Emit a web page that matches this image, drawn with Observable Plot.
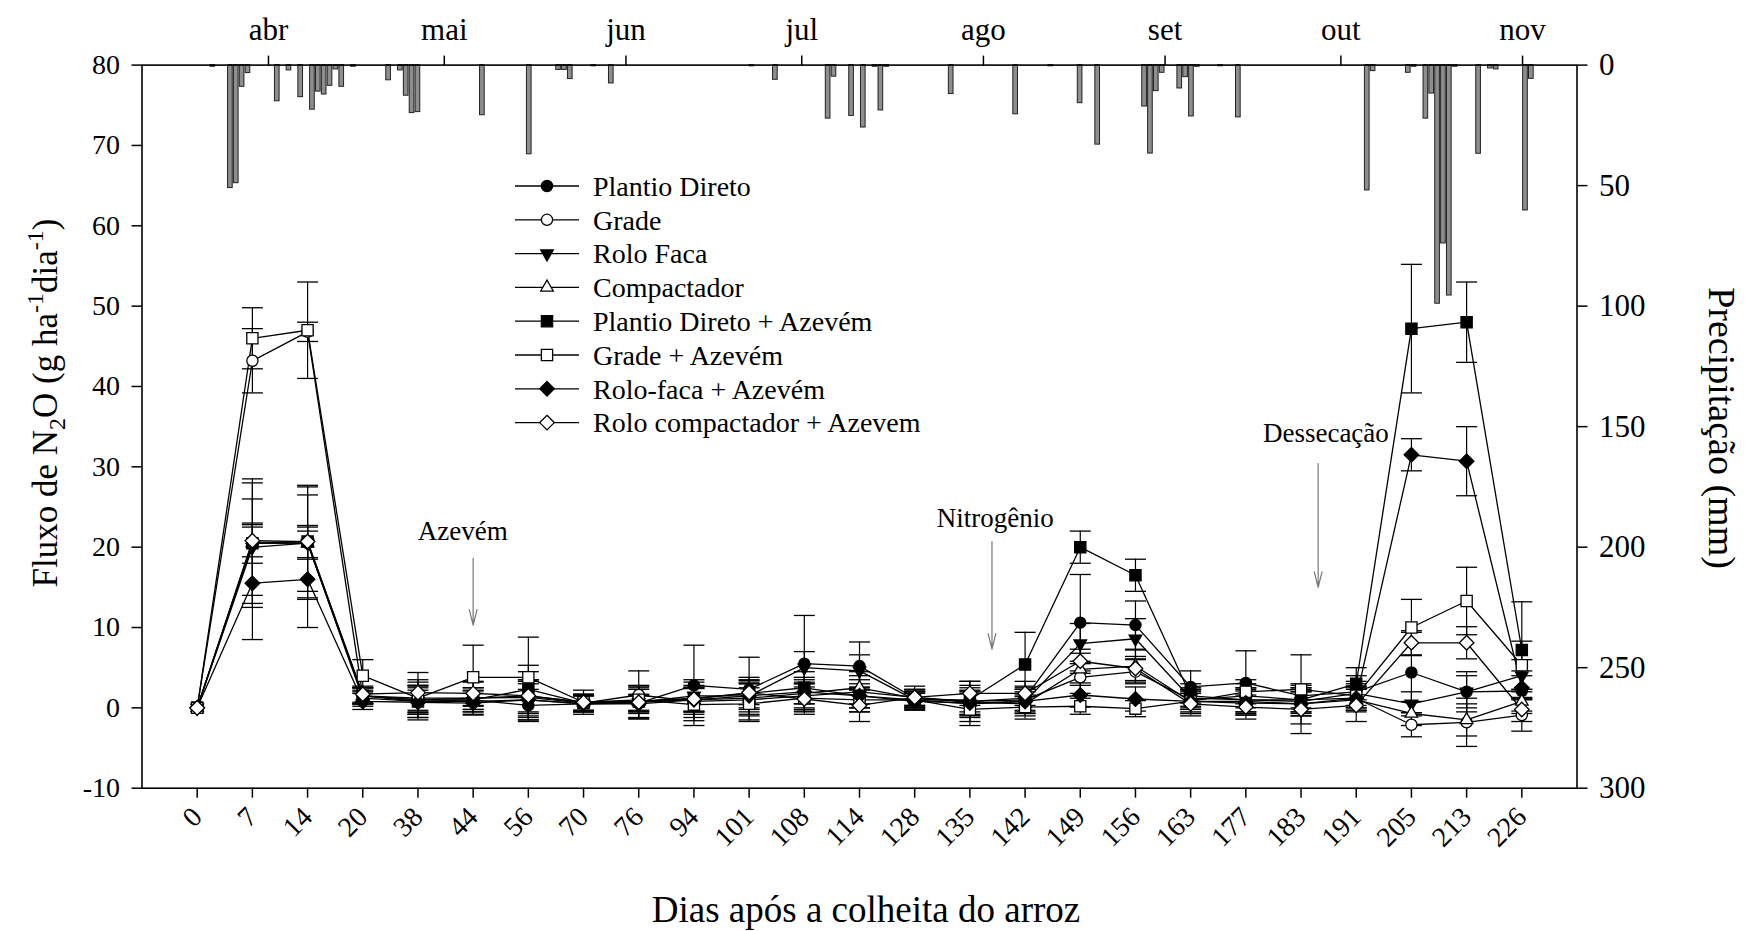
<!DOCTYPE html>
<html><head><meta charset="utf-8">
<script src="https://cdn.jsdelivr.net/npm/d3@7"></script>
<script src="https://cdn.jsdelivr.net/npm/@observablehq/plot@0.6"></script>
<style>
html,body{margin:0;padding:0;background:#fff;}
#chart{position:relative;width:1747px;height:931px;}
#chart svg{position:absolute;left:0;top:0;}
</style></head><body><div id="chart"></div>
<script>
// ---------- data ----------
const days = [0,7,14,20,38,44,56,70,76,94,101,108,114,128,135,142,149,156,163,177,183,191,205,213,226];
const seriesNames = ["Plantio Direto","Grade","Rolo Faca","Compactador","Plantio Direto + Azevém","Grade + Azevém","Rolo-faca + Azevém","Rolo compactador + Azevem"];

const pd     = [0,20.5,20.5,1.5,1.0,1.0,0.3,0.5,0.6,2.8,2.3,5.5,5.2,1.2,0.8,1.2,10.6,10.3,2.6,3.1,1.5,2.0,4.4,2.0,2.1];
const pdErr  = [0,7.5,7,1,1.5,1.5,2,1,1,5,4,6,3,1.5,2,1.5,6,3,2,4,1.5,2,5,2.5,2.5];
const gr     = [0,43.2,46.8,1.5,1.2,1.2,1.3,0.6,1.6,0.8,1.0,1.5,2.0,1.3,0.8,1.0,3.8,4.5,1.0,1.5,1.0,1.2,-2.1,-1.8,-0.9];
const grErr  = [0,4,1.2,1,1.5,1,2,1,3,2,2,1.5,2,1,2.5,1.5,2,1.5,1.5,1.5,1.5,1.5,1.5,3,2];
const rf     = [0,20.0,20.5,1.2,0.8,0.8,1.0,0.5,0.7,1.5,1.5,5.0,4.6,1.0,0.5,0.8,8.0,8.6,1.2,1.0,0.8,1.8,0.5,2.0,4.0];
const rfErr  = [0,6,6,1,2,1,2,1,1,2,2,2,2,1,1.5,1.5,2.5,2.5,1,1.5,1.5,1.5,1.5,2,2];
const cp     = [0,20.5,20.5,1.5,1.0,1.2,1.5,0.7,0.8,1.0,1.2,1.8,2.5,1.2,0.7,0.5,4.8,5.2,0.8,0.8,0.5,1.0,-0.7,-1.5,0.8];
const cpErr  = [0,2.5,2,1,2.5,2,3,1,2,1.5,2,2,2,1,1.5,1.5,2,2,1,1.5,1.5,1.5,1.5,2,1.5];
const pda    = [0,20.5,20.7,1.5,0.8,1.0,2.3,0.6,0.8,1.2,1.8,2.5,1.5,1.0,1.0,5.4,20.0,16.5,1.5,1.0,1.0,3.0,47.2,48.0,7.2];
const pdaErr = [0,8,7,1,2,1.5,3,1,1.5,2,2,2,2,1,1.5,4,2,2,1.5,1.5,1.5,2,8,5,6];
const ga     = [0,46.0,47.0,4.0,1.2,3.8,3.8,0.7,1.0,0.4,0.5,1.2,1.0,1.0,-0.2,0.1,0.2,-0.1,0.8,2.0,2.3,1.5,10.0,13.3,5.3];
const gaErr  = [0,3.8,6,2,2,4,5,1.5,1.5,2,2,2,1.5,1,2,1.5,1,1,1.5,1.5,4.3,1.5,3.5,4.2,3];
const rfa    = [0,15.5,16.0,0.8,0.7,0.6,1.0,0.5,0.5,1.0,1.5,2.0,1.5,0.8,0.6,0.8,1.6,1.1,0.8,0.6,0.5,1.2,31.5,30.7,2.5];
const rfaErr = [0,7,6,1,1.5,1.5,2.5,1,1,1.5,1.5,1.5,1.5,1,1.5,1.5,1.5,1.5,1.5,1.5,1.5,1.5,2,4.3,1.5];
const rca    = [0,20.8,20.7,1.7,1.9,1.8,1.5,0.7,0.7,1.1,1.9,1.1,0.3,1.3,1.8,1.8,5.8,4.9,0.5,0.1,-0.2,0.3,8.1,8.1,-0.2];
const rcaErr = [0,2,2,1,2.5,1.5,2,1,2,1.5,1.5,1.5,2,1,1.5,1.5,1.5,1.5,1.5,1.5,3,2,1.5,2,1.5];

const yTicks = [-10,0,10,20,30,40,50,60,70,80];

const precipDates = ["2011-03-22","2011-03-25","2011-03-26","2011-03-27","2011-03-28","2011-04-02","2011-04-04","2011-04-06","2011-04-08","2011-04-09","2011-04-10","2011-04-11","2011-04-12","2011-04-13","2011-04-15","2011-04-21","2011-04-23","2011-04-24","2011-04-25","2011-04-26","2011-05-07","2011-05-15","2011-05-20","2011-05-21","2011-05-22","2011-05-26","2011-05-29","2011-06-22","2011-06-26","2011-07-05","2011-07-06","2011-07-09","2011-07-11","2011-07-13","2011-07-14","2011-07-15","2011-07-26","2011-08-06","2011-08-12","2011-08-17","2011-08-20","2011-08-28","2011-08-29","2011-08-30","2011-08-31","2011-09-03","2011-09-04","2011-09-05","2011-09-06","2011-09-10","2011-09-13","2011-10-05","2011-10-06","2011-10-12","2011-10-13","2011-10-15","2011-10-16","2011-10-17","2011-10-18","2011-10-19","2011-10-20","2011-10-24","2011-10-26","2011-10-27","2011-11-01","2011-11-02"];
const precipMm = [0.7,51,49,9,3.3,15,2.2,13.3,18.5,11,12.2,8.6,1.8,9,0.7,6.3,2.2,12.7,19.9,19.5,20.8,37,2,2,5.8,0.5,7.6,0.5,6.1,22.2,4.8,21.1,25.9,0.7,18.8,0.7,12,20.4,0.5,15.8,33,17.2,36.7,10.8,3.2,9.7,5,21.3,0.7,0.5,21.7,52,2.5,3.2,0.7,22.2,11.8,99,74,95.6,0.7,36.8,1.4,1.8,60.3,5.7];
const precipTicks = [0,50,100,150,200,250,300];

const monthTicks = ["2011-04-01","2011-05-01","2011-06-01","2011-07-01","2011-08-01","2011-09-01","2011-10-01","2011-11-01"];
const monthLabels = ["abr","mai","jun","jul","ago","set","out","nov"];
const timeDomain = ["2011-03-10T10:00Z","2011-11-10T07:00Z"];

const annotLabels = ["Azevém","Nitrogênio","Dessecação"];
const annotTextX  = [4.81,14.46,20.45];
const annotTextY  = [22.0,23.6,34.2];
const arrowX      = [5.0,14.4,20.31];
const arrowTop    = [18.6,20.7,30.4];
const arrowTip    = [10.3,7.3,15.0];

// ---------- layout ----------
const W = 1747, H = 931;
const M = {left:141.5, right:170.5, top:64.6, bottom:143.3};
const FONT = "'Liberation Serif','Times New Roman',serif";

// ---------- symbols ----------
const rad = s => Math.sqrt(s/Math.PI);
const sym = {
  circle:{draw(c,s){const r=rad(s);c.moveTo(r,0);c.arc(0,0,r,0,2*Math.PI);}},
  square:{draw(c,s){const r=rad(s);c.rect(-r,-r,2*r,2*r);}},
  diamond:{draw(c,s){const r=rad(s)*1.3;c.moveTo(0,-r);c.lineTo(r,0);c.lineTo(0,r);c.lineTo(-r,0);c.closePath();}},
  triUp:{draw(c,s){const r=rad(s)*1.3;c.moveTo(0,-r);c.lineTo(r*0.866,r*0.5);c.lineTo(-r*0.866,r*0.5);c.closePath();}},
  triDown:{draw(c,s){const r=rad(s)*1.3;c.moveTo(0,r);c.lineTo(r*0.866,-r*0.5);c.lineTo(-r*0.866,-r*0.5);c.closePath();}},
  cap:{draw(c,s){const r=rad(s);c.moveTo(-r,0);c.lineTo(r,0);}}
};

const series = [
  {name:seriesNames[0], v:pd,  e:pdErr,  symbol:sym.circle,  fill:"#000"},
  {name:seriesNames[1], v:gr,  e:grErr,  symbol:sym.circle,  fill:"#fff"},
  {name:seriesNames[2], v:rf,  e:rfErr,  symbol:sym.triDown, fill:"#000"},
  {name:seriesNames[3], v:cp,  e:cpErr,  symbol:sym.triUp,   fill:"#fff"},
  {name:seriesNames[4], v:pda, e:pdaErr, symbol:sym.square,  fill:"#000"},
  {name:seriesNames[5], v:ga,  e:gaErr,  symbol:sym.square,  fill:"#fff"},
  {name:seriesNames[6], v:rfa, e:rfaErr, symbol:sym.diamond, fill:"#000"},
  {name:seriesNames[7], v:rca, e:rcaErr, symbol:sym.diamond, fill:"#fff"}
];
series.forEach(s => { s.rows = s.v.map((v,i)=>({i, v, e:s.e[i]})); s.erows = s.rows.filter(d=>d.e>0); });

const annots = annotLabels.map((label,k)=>({label, tx:annotTextX[k], ty:annotTextY[k], ax:arrowX[k], top:arrowTop[k], tip:arrowTip[k]}));

const precip = precipDates.map((d,k)=>{const d0=new Date(d+"T00:00Z");return {d0, d1:d3.utcDay.offset(d0,1), mm:precipMm[k]};});
const monthDates = monthTicks.map(d=>new Date(d+"T00:00Z"));

const baseStyle = {fontFamily:FONT, fontSize:"28px", color:"#000", background:"transparent", overflow:"visible"};

// ---------- precipitation layer ----------
const precipPlot = Plot.plot({
  width:W, height:H, marginLeft:M.left, marginRight:M.right, marginTop:M.top, marginBottom:M.bottom,
  style:{...baseStyle, fontSize:"31px", background:"#fff"},
  x:{type:"utc", domain:timeDomain.map(d=>new Date(d)), axis:"top", ticks:monthDates,
     tickFormat:d=>monthLabels[monthDates.findIndex(t=>+t===+d)], tickSize:10, tickPadding:15, label:null},
  y:{domain:[0,300], reverse:true, axis:"right", ticks:precipTicks, tickFormat:d=>String(d), tickSize:10, tickPadding:12, label:null},
  marks:[
    Plot.rectY(precip, {x1:"d0", x2:"d1", y:"mm", fill:"#8e8e8e", stroke:"#222", strokeWidth:1, insetLeft:0.6, insetRight:0.6})
  ]
});

// ---------- main layer ----------
const marks = [];
for (const s of series) marks.push(Plot.line(s.rows, {x:"i", y:"v", stroke:"#000", strokeWidth:1.3}));
for (const s of series) {
  marks.push(Plot.ruleX(s.erows, {x:"i", y1:d=>d.v-d.e, y2:d=>d.v+d.e, stroke:"#000", strokeWidth:1.2}));
  marks.push(Plot.dot(s.erows, {x:"i", y:d=>d.v+d.e, symbol:sym.cap, r:10.5, stroke:"#000", strokeWidth:1.3, fill:"none"}));
  marks.push(Plot.dot(s.erows, {x:"i", y:d=>d.v-d.e, symbol:sym.cap, r:10.5, stroke:"#000", strokeWidth:1.3, fill:"none"}));
}
for (const s of series) marks.push(Plot.dot(s.rows, {x:"i", y:"v", symbol:s.symbol, r:5.6, fill:s.fill, stroke:"#000", strokeWidth:1.3}));
marks.push(Plot.arrow(annots, {x1:"ax", x2:"ax", y1:"top", y2:"tip", stroke:"#777", strokeWidth:1.2, headLength:20, headAngle:28}));
marks.push(Plot.text(annots, {x:"tx", y:"ty", text:"label", fontSize:27, fill:"#000"}));
marks.push(Plot.frame({stroke:"#000", strokeWidth:1.6}));

const mainPlot = Plot.plot({
  width:W, height:H, marginLeft:M.left, marginRight:M.right, marginTop:M.top, marginBottom:M.bottom,
  style:baseStyle,
  x:{type:"linear", domain:[-1,25], ticks:days.map((d,i)=>i), tickFormat:i=>String(days[i]), tickRotate:-45, tickSize:10, tickPadding:14, label:null},
  y:{domain:[-10,80], ticks:yTicks, tickFormat:d=>String(d), tickSize:10, tickPadding:12, label:null},
  marks
});

const chart = document.getElementById("chart");
chart.appendChild(precipPlot);
chart.appendChild(mainPlot);

// thicker axis ticks
for (const p of [precipPlot, mainPlot]) {
  d3.select(p).selectAll('[aria-label*="tick"] path, [aria-label*="axis"] line').attr("stroke-width", 1.5);
}

// ---------- titles & legend (text / layout) ----------
const svg = d3.select(mainPlot);
const t1 = svg.append("text").attr("transform","translate(57,403) rotate(-90)").attr("text-anchor","middle")
  .attr("font-family",FONT).attr("font-size",35).attr("fill","#000");
t1.append("tspan").text("Fluxo de N");
t1.append("tspan").attr("font-size",24).attr("dy",8).text("2");
t1.append("tspan").attr("dy",-8).text("O (g ha");
t1.append("tspan").attr("font-size",24).attr("dy",-14).text("-1");
t1.append("tspan").attr("dy",14).text("dia");
t1.append("tspan").attr("font-size",24).attr("dy",-14).text("-1");
t1.append("tspan").attr("dy",14).text(")");

svg.append("text").attr("transform","translate(1722,428) rotate(90)").attr("text-anchor","middle").attr("dy","0.35em")
  .attr("font-family",FONT).attr("font-size",38).attr("fill","#000").text("Precipitação (mm)");
svg.append("text").attr("x",866).attr("y",922).attr("text-anchor","middle")
  .attr("font-family",FONT).attr("font-size",37).attr("fill","#000").text("Dias após a colheita do arroz");

const leg = svg.append("g").attr("font-family",FONT).attr("font-size",28).attr("text-anchor","start");
series.forEach((s,k)=>{
  const y = 186 + k*33.8;
  leg.append("line").attr("x1",515).attr("x2",579).attr("y1",y).attr("y2",y).attr("stroke","#000").attr("stroke-width",1.3);
  leg.append("path").attr("transform",`translate(547,${y})`).attr("d",d3.symbol(s.symbol, 5.6*5.6*Math.PI)())
    .attr("fill",s.fill).attr("stroke","#000").attr("stroke-width",1.3);
  leg.append("text").attr("x",593).attr("y",y).attr("dy","0.35em").attr("text-anchor","start").attr("fill","#000").text(s.name);
});
</script></body></html>
